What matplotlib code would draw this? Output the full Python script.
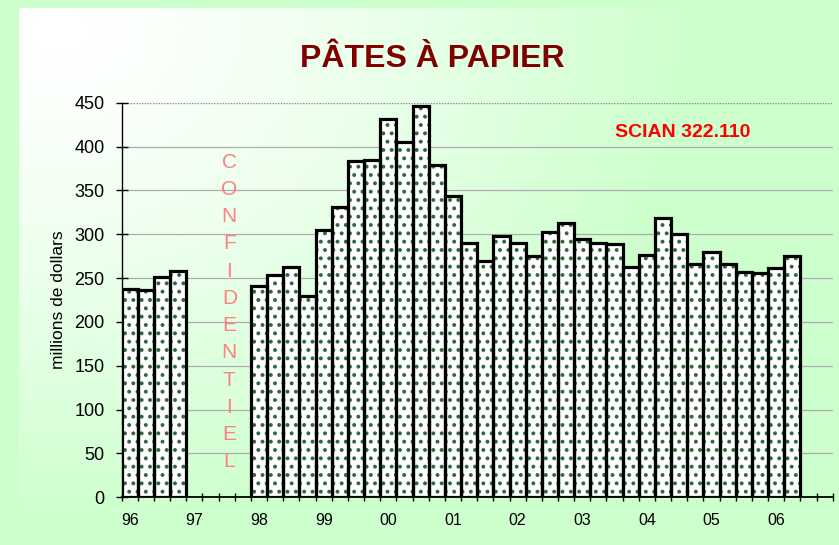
import numpy as np
import matplotlib
matplotlib.use("Agg")
import matplotlib.pyplot as plt

# Quarterly shipments, millions of dollars (None = confidential / not available)
years = ["96", "97", "98", "99", "00", "01", "02", "03", "04", "05", "06"]
values_1996 = [237, 236, 251, 258]
values_1997 = [None, None, None, None]
values_1998 = [241, 254, 263, 230]
values_1999 = [305, 331, 383, 385]
values_2000 = [431, 405, 446, 379]
values_2001 = [344, 290, 270, 298]
values_2002 = [290, 275, 302, 313]
values_2003 = [295, 290, 289, 263]
values_2004 = [276, 318, 300, 266]
values_2005 = [280, 266, 257, 256]
values_2006 = [262, 275, None, None]
y_ticks = [0, 50, 100, 150, 200, 250, 300, 350, 400, 450]
title = "PÂTES À PAPIER"
code_label = "SCIAN 322.110"
confidential = "CONFIDENTIEL"
y_label = "millions de dollars"

series = (values_1996 + values_1997 + values_1998 + values_1999 + values_2000 +
          values_2001 + values_2002 + values_2003 + values_2004 + values_2005 +
          values_2006)
n_quarters = len(series)
xs = [i for i, v in enumerate(series) if v is not None]
vals = [v for v in series if v is not None]

W, H, DPI = 839, 545, 100
plt.rcParams["font.family"] = ["Liberation Sans", "DejaVu Sans"]
plt.rcParams["hatch.linewidth"] = 1.6

fig = plt.figure(figsize=(W / DPI, H / DPI), dpi=DPI, facecolor="#ccffcc")

# soft white-to-green background panel
bg = fig.add_axes([0, 0, 1, 1], zorder=-10)
yy, xx = np.mgrid[0:H, 0:W]
t = np.clip(np.hypot((xx - 60) / 640.0, (yy - 30) / 500.0), 0, 1) ** 1.3
white = np.array([1.0, 1.0, 1.0])
green = np.array([0xcc, 0xff, 0xcc]) / 255.0
img = white * (1 - t[..., None]) + green * t[..., None]
img[:, :19] = green
img[:8, :] = green
bg.imshow(img, extent=[0, W, H, 0], aspect="auto", interpolation="bilinear")
bg.set_xlim(0, W)
bg.set_ylim(H, 0)
bg.axis("off")

# plotting area
x0, x1, y0, y1 = 121.7, 832.7, 497.3, 102.7
ax = fig.add_axes([x0 / W, (H - y0) / H, (x1 - x0) / W, (y0 - y1) / H])
ax.patch.set_alpha(0)
ax.set_xlim(-0.5, n_quarters - 0.5)
ax.set_ylim(0, 450)

# gridlines
for v in y_ticks[1:-1]:
    ax.axhline(v, color="#b0aab2", lw=0.9, zorder=1)
ax.axhline(y_ticks[-1], color="#8c8c8c", lw=1.0, ls=(0, (1, 1)), zorder=1)

# dotted bars with heavy black outline
ax.bar(xs, vals, width=1.0, color="white", edgecolor="#2f6a3b", hatch="..",
       linewidth=0, zorder=2)
ax.bar(xs, vals, width=1.0, fill=False, edgecolor="black", linewidth=2.3,
       zorder=3)

for s in ["top", "right"]:
    ax.spines[s].set_visible(False)
ax.spines["left"].set_linewidth(1.0)
ax.spines["bottom"].set_linewidth(1.3)
ax.spines["bottom"].set_zorder(4)

ax.set_yticks(y_ticks)
ax.tick_params(axis="y", direction="inout", length=8.6, width=1.0,
               labelsize=13, pad=8)

# quarter boundary ticks, year labels under first quarter
ax.set_xticks(np.arange(-0.5, n_quarters, 1.0))
ax.set_xticklabels([])
ax.tick_params(axis="x", which="major", direction="inout", length=6.3, width=1.0)
ax.set_xticks(np.arange(0, n_quarters, 4), minor=True)
ax.set_xticklabels(years, minor=True,
                   fontfamily=["Liberation Sans Narrow", "Liberation Sans"])
ax.tick_params(axis="x", which="minor", length=0, labelsize=11.5, pad=11)

ax.set_ylabel(y_label, fontsize=12.5)
ax.yaxis.set_label_coords(-0.078, 0.5)

# confidential marker in the empty year
n = len(confidential)
top_v, bot_v = 382.0, 40.6
for i, ch in enumerate(confidential):
    ax.text(6.16, top_v - i * (top_v - bot_v) / (n - 1), ch, color="#ff8080",
            fontsize=15, ha="center", va="center", zorder=5)

ax.text((683 - x0) / (x1 - x0), (y0 - 137) / (y0 - y1), code_label,
        transform=ax.transAxes, color="#ff0000", fontsize=14,
        fontweight="bold", ha="center", va="baseline")

fig.text(432.5 / W, (H - 67) / H, title, color="#800000", fontsize=23,
         fontweight="bold", ha="center", va="baseline")

fig.savefig("out.png", dpi=DPI, facecolor=fig.get_facecolor())
